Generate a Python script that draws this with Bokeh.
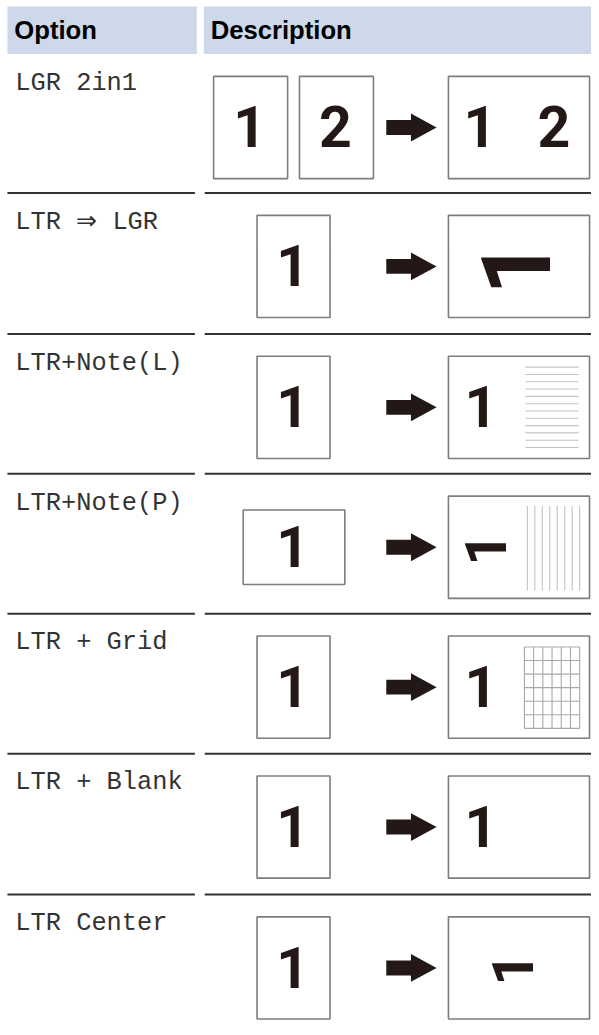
import math
from bokeh.plotting import figure
from bokeh.models import Range1d, ColumnDataSource
from bokeh.embed import file_html
from bokeh.resources import INLINE
from bokeh.core.properties import value

# ---------------- data ----------------
headers = ["Option", "Description"]
options = ["LGR 2in1", "LTR \u21d2 LGR", "LTR+Note(L)", "LTR+Note(P)",
           "LTR + Grid", "LTR + Blank", "LTR Center"]
input_digits = [["1", "2"], ["1"], ["1"], ["1"], ["1"], ["1"], ["1"]]
input_orient = ["portrait", "portrait", "portrait", "landscape",
                "portrait", "portrait", "portrait"]
output_digits = [["1", "2"], ["1"], ["1"], ["1"], ["1"], ["1"], ["1"]]
output_mode = ["upright", "rotated_big", "upright", "rotated",
               "upright", "upright", "rotated_center"]
output_extra = ["none", "none", "hlines", "vlines", "grid", "none", "none"]
n_hlines = 12
n_vlines = 8
grid_cols = 6
grid_rows = 6

# ---------------- layout ----------------
W, H = 599, 1035
FW, FH = 591, 1027
S = FW / W                      # font scale to keep proportions
K = 0.37                        # baseline correction (em)
HEAD_TOP, HEAD_BOT = 6, 54
COL1 = (7, 199)
COL2 = (206, 599)
row_top = [54, 194, 336, 477, 618, 759, 901]
sep_y = row_top[1:]
BOX_H = 103
DARK = "#231815"
BORDER = "#7d7d7d"
DIGIT_FONT = "Roboto"


def px(v):
    return "%.2fpx" % (v * S)


def base_y(baseline, size):
    return baseline - K * size


p = figure(width=FW, height=FH, x_range=Range1d(0, W), y_range=Range1d(H, 0),
           x_axis_type=None, y_axis_type=None, toolbar_location=None,
           output_backend="svg", min_border=0, outline_line_color=None,
           background_fill_color="white", border_fill_color="white")

# header
p.quad(left=[COL1[0], COL2[0]], right=[COL1[1], COL2[1] + 5],
       top=[HEAD_TOP] * 2, bottom=[HEAD_BOT] * 2,
       fill_color="#cdd8ea", line_color=None)
p.text(x=[14, 213], y=[base_y(39, 26)] * 2, text=headers,
       text_font=value("Liberation Sans"), text_font_size=px(26),
       text_font_style="bold", text_color="#000000",
       text_baseline="alphabetic", text_align="left")

# separators
p.segment(x0=[COL1[0]] * len(sep_y), x1=[197] * len(sep_y), y0=sep_y, y1=sep_y,
          line_color="#333333", line_width=2)
p.segment(x0=[207] * len(sep_y), x1=[COL2[1] + 5] * len(sep_y), y0=sep_y, y1=sep_y,
          line_color="#333333", line_width=2)

# option labels
p.text(x=[15] * len(options), y=[base_y(t + 39, 25.7) for t in row_top], text=options,
       text_font=value("Liberation Mono"), text_font_size=px(25.7),
       text_color="#333333", text_baseline="alphabetic", text_align="left")

boxes = dict(l=[], r=[], t=[], b=[])
dig = dict(x=[], y=[], t=[])
rot = dict(x=[], y=[], t=[], s=[])
arrows_x, arrows_y = [], []
seg = dict(x0=[], x1=[], y0=[], y1=[], c=[])


def add_box(l, r, t, b):
    boxes["l"].append(l); boxes["r"].append(r); boxes["t"].append(t); boxes["b"].append(b)


DS = 58
for i in range(len(options)):
    top = row_top[i] + 22.5
    cy = top + BOX_H / 2
    base = base_y(cy + 20.5, DS)
    # input pages
    if len(input_digits[i]) == 2:
        for (l, r), d in zip([(216, 291), (303, 378)], input_digits[i]):
            add_box(l, r, top, top + BOX_H)
            dig["x"].append((l + r) / 2 + (-1 if d == "1" else -1)); dig["y"].append(base); dig["t"].append(d)
    elif input_orient[i] == "landscape":
        add_box(246, 349, cy - 37.5, cy + 37.5)
        dig["x"].append(296); dig["y"].append(base); dig["t"].append(input_digits[i][0])
    else:
        add_box(260, 334, top, top + BOX_H)
        dig["x"].append(296); dig["y"].append(base); dig["t"].append(input_digits[i][0])
    # arrow
    ax0, ax1, axm = 391, 442, 416
    arrows_x.append([ax0, axm, axm, ax1, axm, axm, ax0])
    arrows_y.append([cy - 7.5, cy - 7.5, cy - 14, cy, cy + 14, cy + 7.5, cy + 7.5])
    # output page
    ol, orr = 454, 597
    add_box(ol, orr, top, top + BOX_H)
    m = output_mode[i]
    if m == "upright":
        if len(output_digits[i]) == 2:
            dig["x"] += [486, 561]; dig["y"] += [base, base]; dig["t"] += output_digits[i]
        else:
            dig["x"].append(487); dig["y"].append(base); dig["t"].append(output_digits[i][0])
    elif m == "rotated_big":
        rot["x"].append(521.5); rot["y"].append(cy + 1); rot["t"].append(output_digits[i][0]); rot["s"].append(px(98))
    elif m == "rotated":
        rot["x"].append(491.5); rot["y"].append(cy + 2); rot["t"].append(output_digits[i][0]); rot["s"].append(px(58))
    else:
        rot["x"].append(519); rot["y"].append(cy + 1.5); rot["t"].append(output_digits[i][0]); rot["s"].append(px(58))
    # extras
    if output_extra[i] == "hlines":
        for k in range(n_hlines):
            yy = top + 11 + k * 81 / (n_hlines - 1)
            seg["x0"].append(ol + 78); seg["x1"].append(ol + 132); seg["y0"].append(yy); seg["y1"].append(yy); seg["c"].append("#c4c4c4")
    elif output_extra[i] == "vlines":
        for k in range(n_vlines):
            xx = ol + 80 + k * 53 / (n_vlines - 1)
            seg["x0"].append(xx); seg["x1"].append(xx); seg["y0"].append(top + 10); seg["y1"].append(top + 95); seg["c"].append("#c4c4c4")
    elif output_extra[i] == "grid":
        gx0, gx1, gy0, gy1 = ol + 77, ol + 133, top + 11, top + 93
        for k in range(grid_cols + 1):
            xx = gx0 + k * (gx1 - gx0) / grid_cols
            seg["x0"].append(xx); seg["x1"].append(xx); seg["y0"].append(gy0); seg["y1"].append(gy1); seg["c"].append("#a8a8a8")
        for k in range(grid_rows + 1):
            yy = gy0 + k * (gy1 - gy0) / grid_rows
            seg["x0"].append(gx0); seg["x1"].append(gx1); seg["y0"].append(yy); seg["y1"].append(yy); seg["c"].append("#a8a8a8")

p.quad(left="l", right="r", top="t", bottom="b", source=ColumnDataSource(boxes),
       fill_color="white", line_color=BORDER, line_width=1.6)
p.segment(x0="x0", x1="x1", y0="y0", y1="y1", line_color="c", line_width=1.1,
          source=ColumnDataSource(seg))
p.patches(xs=arrows_x, ys=arrows_y, fill_color=DARK, line_color=None)
p.text(x="x", y="y", text="t", source=ColumnDataSource(dig),
       text_font=value(DIGIT_FONT), text_font_size=px(DS), text_font_style="bold",
       text_color=DARK, text_align="center", text_baseline="alphabetic")
p.text(x="x", y="y", text="t", text_font_size="s", source=ColumnDataSource(rot),
       text_font=value(DIGIT_FONT), text_font_style="bold", angle=math.pi / 2,
       text_color=DARK, text_align="center", text_baseline="middle")

open("out.html", "w").write(file_html(p, INLINE))
